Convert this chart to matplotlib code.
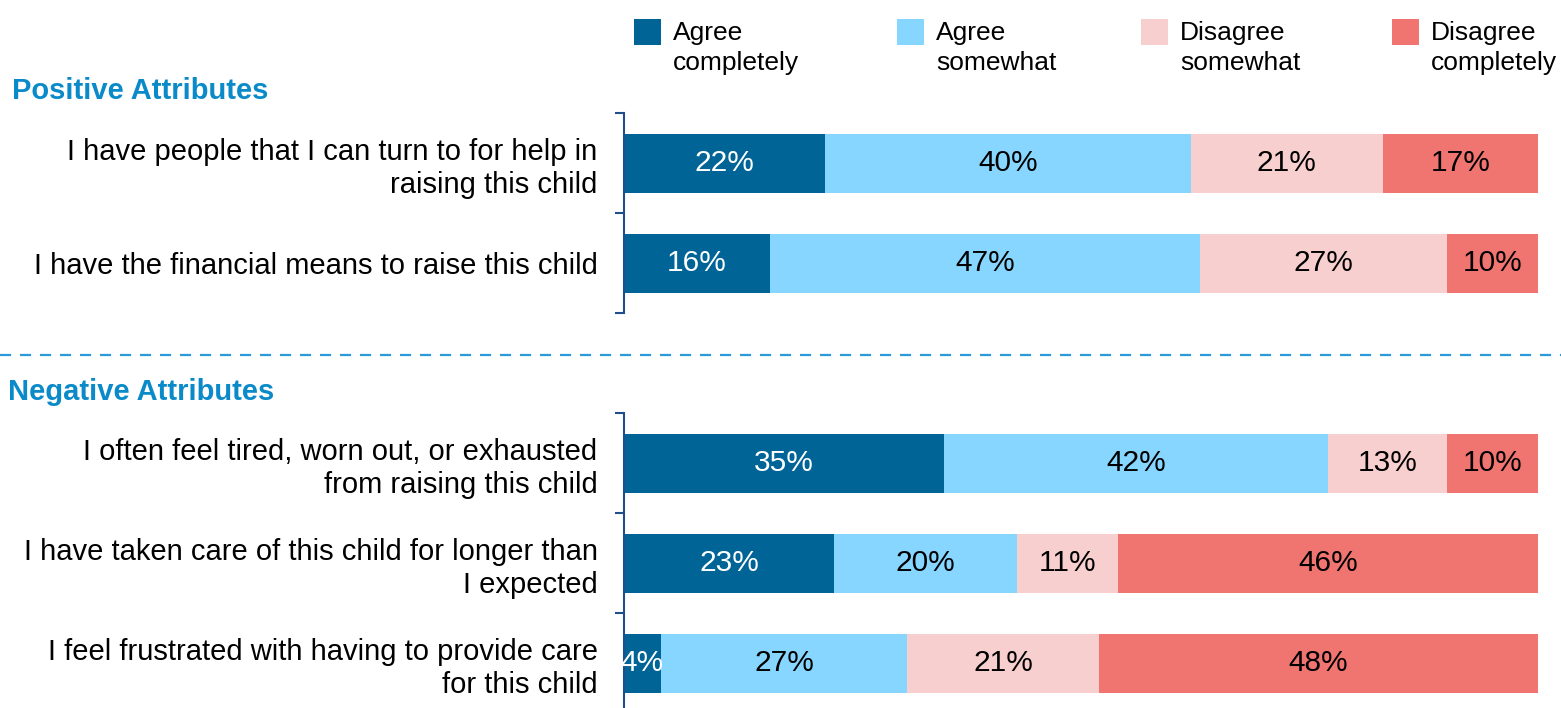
import matplotlib
matplotlib.use("Agg")
import matplotlib.pyplot as plt
from matplotlib.patches import Rectangle
from matplotlib.lines import Line2D
import numpy as np

plt.rcParams['font.family'] = ['Liberation Sans', 'DejaVu Sans']

series_names = ["Agree\ncompletely", "Agree\nsomewhat", "Disagree\nsomewhat", "Disagree\ncompletely"]
colors = ["#006496", "#87D6FF", "#F8CFCF", "#F07470"]
text_colors = ["white", "black", "black", "black"]

pos_labels = ["I have people that I can turn to for help in\nraising this child",
              "I have the financial means to raise this child"]
pos_values = [[22, 40, 21, 17],
              [16, 47, 27, 10]]

neg_labels = ["I often feel tired, worn out, or exhausted\nfrom raising this child",
              "I have taken care of this child for longer than\nI expected",
              "I feel frustrated with having to provide care\nfor this child"]
neg_values = [[35, 42, 13, 10],
              [23, 20, 11, 46],
              [4, 27, 21, 48]]

W, H = 1561, 708
fig = plt.figure(figsize=(W / 100, H / 100), dpi=100)

spine_color = "#1F4E8C"
FS = 21


def fx(px):
    return px / W


def fy(py):
    return 1 - py / H


def draw(ax, labels, values):
    n = len(labels)
    vals = np.array(values, dtype=float)
    left = np.zeros(n)
    y = np.arange(n)
    for j in range(vals.shape[1]):
        bars = ax.barh(y, vals[:, j], left=left, height=0.59, color=colors[j], edgecolor='none')
        for i, b in enumerate(bars):
            ax.text(left[i] + vals[i, j] / 2, y[i], f"{int(vals[i, j])}%", ha='center', va='center',
                    color=text_colors[j], fontsize=21.5)
        left += vals[:, j]
    ax.set_xlim(0, 100)
    ax.set_ylim(n - 0.5, -0.5)
    for s in ['top', 'right', 'bottom']:
        ax.spines[s].set_visible(False)
    ax.spines['left'].set_color(spine_color)
    ax.spines['left'].set_linewidth(1.5)
    ax.set_xticks([])
    ax.set_yticks(y)
    ax.set_yticklabels(labels, fontsize=FS, linespacing=1.22)
    ax.tick_params(axis='y', which='major', length=0, pad=19)
    ax.set_yticks(np.arange(n + 1) - 0.5, minor=True)
    ax.tick_params(axis='y', which='minor', length=6.5, width=1.5, color=spine_color, direction='out')


ax1 = fig.add_axes([fx(624), fy(313), fx(1538) - fx(624), 200 / H])
draw(ax1, pos_labels, pos_values)

ax2 = fig.add_axes([fx(624), fy(713), fx(1538) - fx(624), 300 / H])
draw(ax2, neg_labels, neg_values)

# section headers
hdr_color = "#0A8AC9"
fig.text(fx(12), fy(91), "Positive Attributes", fontsize=FS, fontweight='bold', color=hdr_color,
         ha='left', va='center')
fig.text(fx(8), fy(392), "Negative Attributes", fontsize=FS, fontweight='bold', color=hdr_color,
         ha='left', va='center')

# dashed separator
fig.add_artist(Line2D([0, 1], [fy(355), fy(355)], transform=fig.transFigure, color="#2A9AD8",
                      linewidth=1.6, linestyle=(0, (5, 4))))

# legend
sq_x = [634, 897, 1141, 1392]
for xpx, name, c in zip(sq_x, series_names, colors):
    fig.add_artist(Rectangle((fx(xpx), fy(45)), 27 / W, 26 / H, transform=fig.transFigure,
                             facecolor=c, edgecolor='none'))
    fig.text(fx(xpx + 39), fy(48), name, fontsize=19, ha='left', va='center', linespacing=1.32)

fig.savefig("out.png", dpi=100)
